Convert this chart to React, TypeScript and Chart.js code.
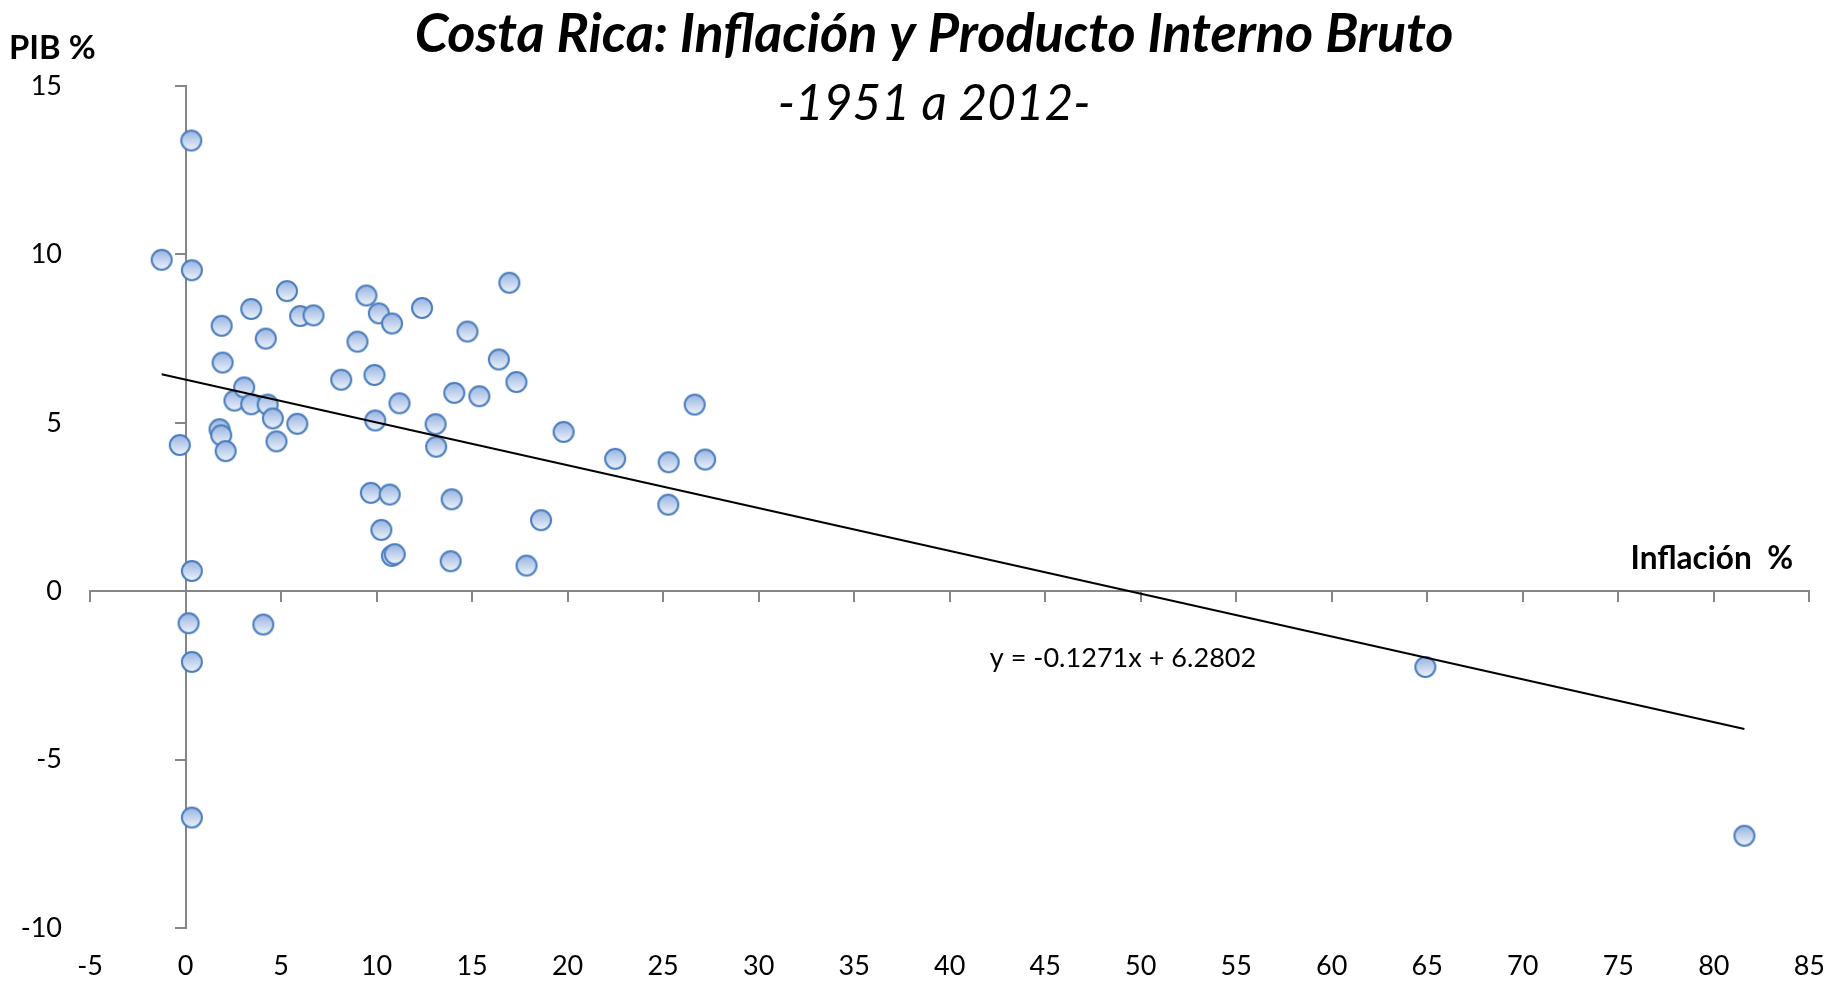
import React, { useEffect, useRef } from "react";
import { Chart, registerables } from "chart.js";

Chart.register(...registerables);

// ---- Data ----
const inflacion: number[] = [
  -1.25, 0.3, 0.33, 0.33, 0.16, 0.33, 0.33, -0.3,
  1.78, 1.87, 2.1, 1.89, 1.94, 2.56, 3.07, 3.44, 3.44, 4.2,
  4.3, 4.57, 4.76, 4.07, 5.31, 5.85, 6.0, 6.7, 8.15, 9.0,
  9.47, 9.89, 9.93, 9.7, 10.12, 10.25, 10.69, 10.81, 10.8, 10.95,
  11.2, 12.38, 13.09, 13.12, 13.88, 13.93, 14.07, 14.76, 15.38, 16.4,
  16.95, 17.32, 17.85, 18.61, 19.79, 22.49, 25.29, 25.27, 26.65, 27.2,
  64.9, 81.6,
];
const pib: number[] = [
  9.84, 13.38, 9.53, 0.6, -0.95, -2.1, -6.72, 4.34,
  4.81, 4.63, 4.16, 7.88, 6.79, 5.66, 6.05, 5.55, 8.38, 7.5,
  5.54, 5.13, 4.45, -0.99, 8.91, 4.97, 8.17, 8.19, 6.28, 7.41,
  8.78, 6.42, 5.07, 2.92, 8.25, 1.82, 2.87, 7.95, 1.05, 1.1,
  5.58, 8.41, 4.96, 4.29, 0.89, 2.73, 5.89, 7.71, 5.79, 6.88,
  9.16, 6.21, 0.76, 2.11, 4.73, 3.93, 3.83, 2.57, 5.54, 3.91,
  -2.25, -7.26,
];
const trendSlope = -0.1271;
const trendIntercept = 6.2802;
const xMin = -5, xMax = 85, xStep = 5;
const yMin = -10, yMax = 15, yStep = 5;

const titleText = "Costa Rica: Inflación y Producto Interno Bruto";
const subtitleText = "-1951 a 2012-";
const yTitle = "PIB %";
const xTitle = "Inflación  %";
const equationText = "y = -0.1271x + 6.2802";

const FONT = "Lato, 'Open Sans', sans-serif";
const AXIS_GRAY = "#868686";

function makeMarker(): HTMLCanvasElement {
  const size = 26;
  const c = document.createElement("canvas");
  c.width = size;
  c.height = size;
  const g = c.getContext("2d")!;
  const r = 10;
  const cx = size / 2, cy = size / 2;
  const grad = g.createLinearGradient(0, cy - r, 0, cy + r);
  grad.addColorStop(0, "#98b4e1");
  grad.addColorStop(1, "#eef3fb");
  g.beginPath();
  g.arc(cx, cy, r, 0, Math.PI * 2);
  g.fillStyle = grad;
  g.fill();
  g.lineWidth = 2;
  g.strokeStyle = "#4a7dbd";
  g.stroke();
  return c;
}

function fitText(
  ctx: CanvasRenderingContext2D,
  text: string,
  style: string,
  targetWidth: number,
  x: number,
  baseline: number,
  align: "left" | "center" | "right"
) {
  ctx.font = `${style} 100px ${FONT}`;
  const m = ctx.measureText(text);
  const ink = (m.actualBoundingBoxLeft || 0) + (m.actualBoundingBoxRight || m.width);
  const size = (100 * targetWidth) / (ink || m.width);
  ctx.font = `${style} ${size.toFixed(2)}px ${FONT}`;
  const m2 = ctx.measureText(text);
  const left = -(m2.actualBoundingBoxLeft || 0);
  const w = (m2.actualBoundingBoxLeft || 0) + (m2.actualBoundingBoxRight || m2.width);
  let startInk = x;
  if (align === "center") startInk = x - w / 2;
  if (align === "right") startInk = x - w;
  ctx.textAlign = "left";
  ctx.textBaseline = "alphabetic";
  ctx.fillText(text, startInk - left, baseline);
}

const textPlugin = {
  id: "textOverlay",
  afterDraw(chart: any) {
    const ctx: CanvasRenderingContext2D = chart.ctx;
    const xs = chart.scales.x;
    const ys = chart.scales.y;
    ctx.save();
    ctx.fillStyle = "#000";
    fitText(ctx, titleText, "italic bold", 1035, 934.5, 52, "center");
    fitText(ctx, subtitleText, "italic", 308, 934, 120, "center");
    fitText(ctx, yTitle, "bold", 83, 11, 59, "left");
    fitText(ctx, xTitle, "bold", 159, xs.getPixelForValue(84.1), ys.getPixelForValue(0) - 22, "right");
    fitText(ctx, equationText, "normal", 265, xs.getPixelForValue(42.1), ys.getPixelForValue(-2.24), "left");
    ctx.restore();
  },
};

export default function App() {
  const canvasRef = useRef<HTMLCanvasElement | null>(null);

  useEffect(() => {
    if (!canvasRef.current) return;
    const marker = makeMarker();
    const points = inflacion.map((v, i) => ({ x: v, y: pib[i] }));
    const lo = Math.min(...inflacion);
    const hi = Math.max(...inflacion);
    const trend = [
      { x: lo, y: trendSlope * lo + trendIntercept },
      { x: hi, y: trendSlope * hi + trendIntercept },
    ];
    const tickFont = { family: FONT, size: 27 };
    const chart = new Chart(canvasRef.current, {
      type: "scatter",
      data: {
        datasets: [
          {
            type: "line",
            label: "Tendencia",
            data: trend,
            borderColor: "#000",
            borderWidth: 2,
            pointRadius: 0,
            showLine: true,
            fill: false,
            xAxisID: "x",
            yAxisID: "y",
            order: 1,
          } as any,
          {
            type: "scatter",
            label: "PIB vs Inflación",
            data: points,
            pointStyle: marker as any,
            pointRadius: 11,
            xAxisID: "x",
            yAxisID: "y",
            order: 2,
          } as any,
        ],
      },
      options: {
        animation: false,
        responsive: true,
        maintainAspectRatio: false,
        devicePixelRatio: 1,
        layout: { padding: { top: 86, right: 18, left: 0, bottom: 0 } },
        plugins: {
          legend: { display: false },
          tooltip: { enabled: false },
          title: { display: false },
        },
        scales: {
          x: {
            type: "linear",
            position: "bottom",
            min: xMin,
            max: xMax,
            ticks: { stepSize: xStep, font: tickFont, color: "#000", padding: 22, maxRotation: 0 },
            grid: { display: false, drawTicks: false },
            border: { display: false },
            afterFit: (s: any) => { s.height = 53; },
          },
          y: {
            type: "linear",
            position: "left",
            min: yMin,
            max: yMax,
            ticks: { stepSize: yStep, font: tickFont, color: "#000", padding: 28 },
            grid: { display: false, drawTicks: false },
            border: { display: false },
            afterFit: (s: any) => { s.width = 90; },
          },
          x2: {
            type: "linear",
            axis: "x",
            position: { y: 0 },
            min: xMin,
            max: xMax,
            ticks: { stepSize: xStep, display: false },
            grid: { drawOnChartArea: false, drawTicks: true, tickLength: 10, color: AXIS_GRAY, lineWidth: 2 },
            border: { display: true, color: AXIS_GRAY, width: 2 },
          },
          y2: {
            type: "linear",
            axis: "y",
            position: { x: 0 },
            min: yMin,
            max: yMax,
            ticks: { stepSize: yStep, display: false },
            grid: { drawOnChartArea: false, drawTicks: true, tickLength: 10, color: AXIS_GRAY, lineWidth: 2 },
            border: { display: true, color: AXIS_GRAY, width: 2 },
          },
        } as any,
      },
      plugins: [textPlugin],
    });
    let alive = true;
    if ((document as any).fonts) {
      Promise.all([
        document.fonts.load(`italic bold 40px Lato`),
        document.fonts.load(`italic 40px Lato`),
        document.fonts.load(`bold 30px Lato`),
        document.fonts.load(`30px Lato`),
      ]).then(() => { if (alive) chart.update(); }).catch(() => {});
    }
    return () => {
      alive = false;
      chart.destroy();
    };
  }, []);

  return (
    <div style={{ position: "absolute", left: 0, top: 0, width: 1847, height: 981, background: "#fff" }}>
      <canvas ref={canvasRef} />
    </div>
  );
}
